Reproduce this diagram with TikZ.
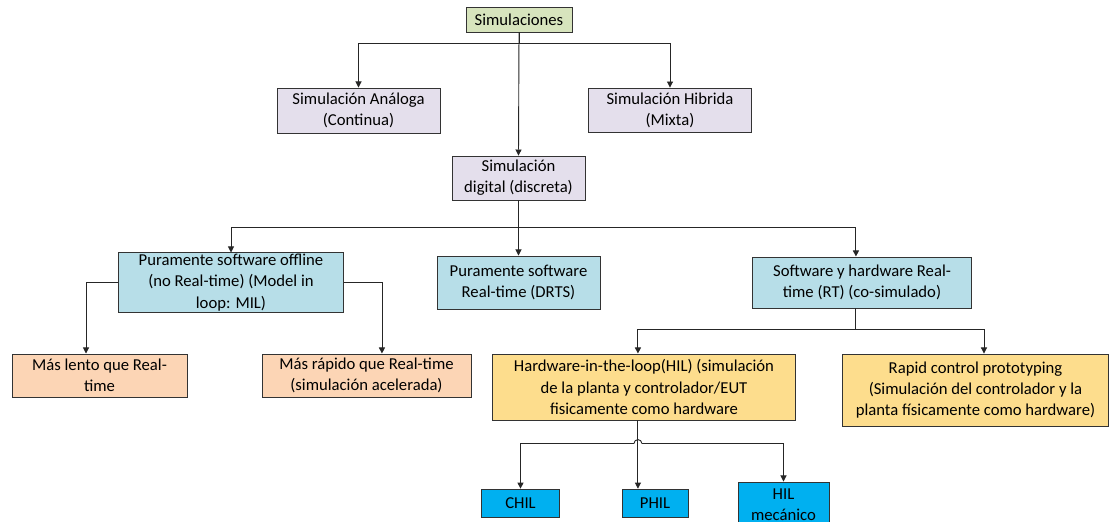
\documentclass[tikz,border=0pt]{standalone}
\usepackage{fontspec}
\setmainfont{Carlito}
\usepackage{tikz}
\usetikzlibrary{arrows.meta}
\definecolor{simgreen}{HTML}{D7E4BD}
\definecolor{simlilac}{HTML}{E4DFEC}
\definecolor{simblue}{HTML}{B7DEE8}
\definecolor{simpeach}{HTML}{FCD5B5}
\definecolor{simgold}{HTML}{FDDD8D}
\definecolor{simcyan}{HTML}{00B0F0}

\begin{document}
\begin{tikzpicture}[
    x=0.66pt, y=-0.66pt,
    box/.style={draw=black!80, line width=0.6pt, inner sep=0pt, align=center, font=\fontsize{11}{14}\selectfont},
    arrow/.style={-{Triangle[length=4pt, width=4pt]}, line width=0.6pt, draw=black!85}
]
    \useasboundingbox (0,0) rectangle (1110,522);

    \node[box, fill=simgreen, minimum width=70pt, minimum height=16.5pt] (sim) at (519,19.5) {Simulaciones};
    \node[box, fill=simlilac, minimum width=107.6pt, minimum height=29.7pt] (analog) at (358.5,110.5) {Simulación Análoga\\(Continua)};
    \node[box, fill=simlilac, minimum width=108pt, minimum height=29pt] (hybrid) at (670,110) {Simulación Hibrida\\(Mixta)};
    \node[box, fill=simlilac, minimum width=87.8pt, minimum height=29pt] (digital) at (518.5,178) {Simulación\\digital (discreta)};

    \node[box, fill=simblue, minimum width=148pt, minimum height=39pt] (offline) at (231,282.5) {Puramente software offline\\(no Real-time) (Model in\\loop: MIL)};
    \node[box, fill=simblue, minimum width=107.6pt, minimum height=35pt] (drts) at (518.5,282.5) {Puramente software\\Real-time (DRTS)};
    \node[box, fill=simblue, minimum width=145pt, minimum height=33.7pt] (rtbox) at (862,282.5) {Software y hardware Real-\\time (RT) (co-simulado)};

    \node[box, fill=simpeach, minimum width=115.5pt, minimum height=28.4pt] (slower) at (99.5,375.5) {Más lento que Real-\\time};
    \node[box, fill=simpeach, minimum width=138pt, minimum height=28.4pt] (faster) at (366.5,375.5) {Más rápido que Real-time\\(simulación acelerada)};
    \node[box, fill=simgold, minimum width=200pt, minimum height=43.6pt] (hil) at (644,387) {Hardware-in-the-loop(HIL) (simulación\\de la planta y controlador/EUT\\fisicamente como hardware};
    \node[box, fill=simgold, minimum width=175pt, minimum height=47.5pt] (rcp) at (975.5,390) {Rapid control prototyping\\(Simulación del controlador y la\\planta físicamente como hardware)};

    \node[box, fill=simcyan, minimum width=51pt, minimum height=19pt] (chil) at (520.5,503.5) {CHIL};
    \node[box, fill=simcyan, minimum width=43.6pt, minimum height=19pt] (phil) at (655,503.5) {PHIL};
    \node[box, fill=simcyan, minimum width=60pt, minimum height=29.7pt] (mechil) at (783.5,504.5) {HIL\\mecánico};

    \draw[arrow] (sim.south) -- ++(0,11) -| (analog.north);
    \draw[arrow] (sim.south) -- ++(0,11) -| (hybrid.north);
    \draw[arrow] (sim.south) -- (digital.north);

    \draw[arrow] (digital.south) -- ++(0,27) -| (offline.north);
    \draw[arrow] (digital.south) -- (drts.north);
    \draw[arrow] (digital.south) -- ++(0,27) -| ([xshift=-4pt]rtbox.north);

    \draw[arrow] (offline.west) -| ([xshift=-8.9pt]slower.north);
    \draw[arrow] (offline.east) -| ([xshift=10.2pt]faster.north);

    \draw[arrow] ([xshift=-4pt]rtbox.south) -- ++(0,21) -| ([xshift=-4pt]hil.north);
    \draw[arrow] ([xshift=-4pt]rtbox.south) -- ++(0,21) -| ([xshift=5.6pt]rcp.north);

    % salida del HIL con salto de linea
    \coordinate (hilsplit) at ([xshift=-4pt, yshift=-15.2pt]hil.south);
    \draw[arrow] ([xshift=-4pt]hil.south) -- (hilsplit |- phil.north);
    \draw[arrow] ([xshift=-2.6pt]hilsplit) -| (chil.north);
    \draw[arrow] ([xshift=2.6pt]hilsplit) -| (mechil.north);
    \draw[line width=0.6pt, draw=black!85] ([xshift=-2.6pt]hilsplit) arc[start angle=180, end angle=0, radius=2.6pt];
\end{tikzpicture}
\end{document}
